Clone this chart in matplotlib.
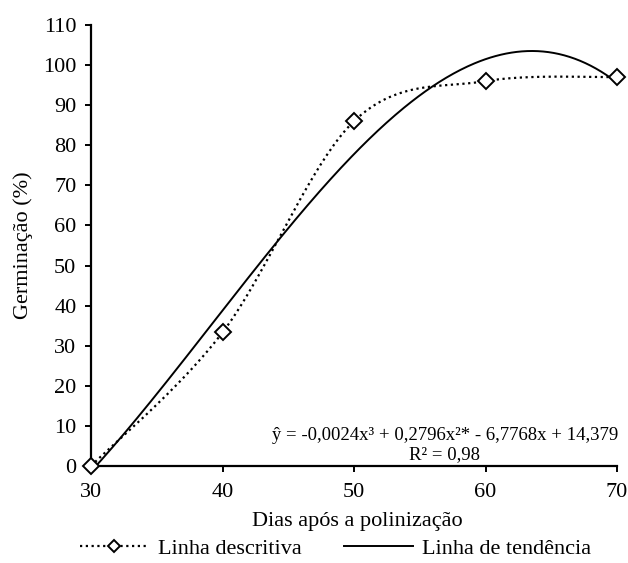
import numpy as np
import matplotlib.pyplot as plt
from matplotlib.lines import Line2D

plt.rcParams['font.family'] = ['Liberation Serif', 'DejaVu Serif']
plt.rcParams['font.size'] = 16

# days after pollination and germination (%)
dias = [30, 40, 50, 60, 70]
germinacao = [0, 33.3, 86, 96, 97]


def smooth_curve(xs, ys, n=40):
    # Catmull-Rom style smoothing through the points (like a spreadsheet smoothed line)
    px = np.array(xs, dtype=float)
    py = np.array(ys, dtype=float)
    px_ext = np.concatenate([[px[0]], px, [px[-1]]])
    py_ext = np.concatenate([[py[0]], py, [py[-1]]])
    out_x, out_y = [], []
    t = np.linspace(0, 1, n)
    for i in range(1, len(px_ext) - 2):
        p0 = np.array([px_ext[i], py_ext[i]])
        p3 = np.array([px_ext[i + 1], py_ext[i + 1]])
        c1 = p0 + (np.array([px_ext[i + 1], py_ext[i + 1]]) - np.array([px_ext[i - 1], py_ext[i - 1]])) / 6
        c2 = p3 - (np.array([px_ext[i + 2], py_ext[i + 2]]) - np.array([px_ext[i], py_ext[i]])) / 6
        b = ((1 - t) ** 3)[:, None] * p0 + (3 * (1 - t) ** 2 * t)[:, None] * c1 \
            + (3 * (1 - t) * t ** 2)[:, None] * c2 + (t ** 3)[:, None] * p3
        out_x.extend(b[:, 0])
        out_y.extend(b[:, 1])
    return np.array(out_x), np.array(out_y)


fig = plt.figure(figsize=(6.28, 5.63), dpi=100)
ax = fig.add_axes([91 / 628, 97 / 563, 526 / 628, 441 / 563])

# descriptive line
sx, sy = smooth_curve(dias, germinacao)
ax.plot(sx, sy, color='black', linestyle=(0, (1, 1.6)), linewidth=1.6, zorder=2)
ax.plot(dias, germinacao, linestyle='none', marker='D', markersize=8,
        markerfacecolor='white', markeredgecolor='black', markeredgewidth=1.4,
        zorder=4, clip_on=False)

# cubic trend line
coef = np.polyfit(dias, germinacao, 3)
xt = np.linspace(30, 70, 300)
ax.plot(xt, np.polyval(coef, xt), color='black', linewidth=1.4, zorder=3)

ax.set_xlim(30, 70)
ax.set_ylim(0, 110)
ax.set_xticks(range(30, 71, 10))
ax.set_yticks(range(0, 111, 10))
for side in ['top', 'right']:
    ax.spines[side].set_visible(False)
for side in ['left', 'bottom']:
    ax.spines[side].set_linewidth(1.6)
ax.tick_params(direction='out', length=4.5, width=1.4, labelsize=16, pad=6)
ax.tick_params(axis='x', pad=8)

ax.set_xlabel('Dias após a polinização', fontsize=16, labelpad=12)
ax.xaxis.set_label_coords(0.507, -0.105)
ax.set_ylabel('Germinação (%)', fontsize=16, labelpad=7)

ax.text(56.9, 7.7, 'ŷ = -0,0024x³ + 0,2796x²* - 6,7768x + 14,379',
        ha='center', va='center', fontsize=13.5)
ax.text(56.9, 2.8, 'R² = 0,98', ha='center', va='center', fontsize=13.5)

handles = [
    Line2D([], [], color='black', linestyle=(0, (1, 1.6)), linewidth=1.6, marker='D',
           markersize=6.5, markerfacecolor='white', markeredgecolor='black',
           markeredgewidth=1.4),
    Line2D([], [], color='black', linewidth=1.4),
]
fig.legend(handles, ['Linha descritiva', 'Linha de tendência'], loc='lower center',
           bbox_to_anchor=(0.534, 0.0), ncol=2, frameon=False, fontsize=16,
           handlelength=3.1, columnspacing=1.9, handletextpad=0.4, borderpad=0.1,
           borderaxespad=0.1)

fig.savefig('out.png', dpi=100)
